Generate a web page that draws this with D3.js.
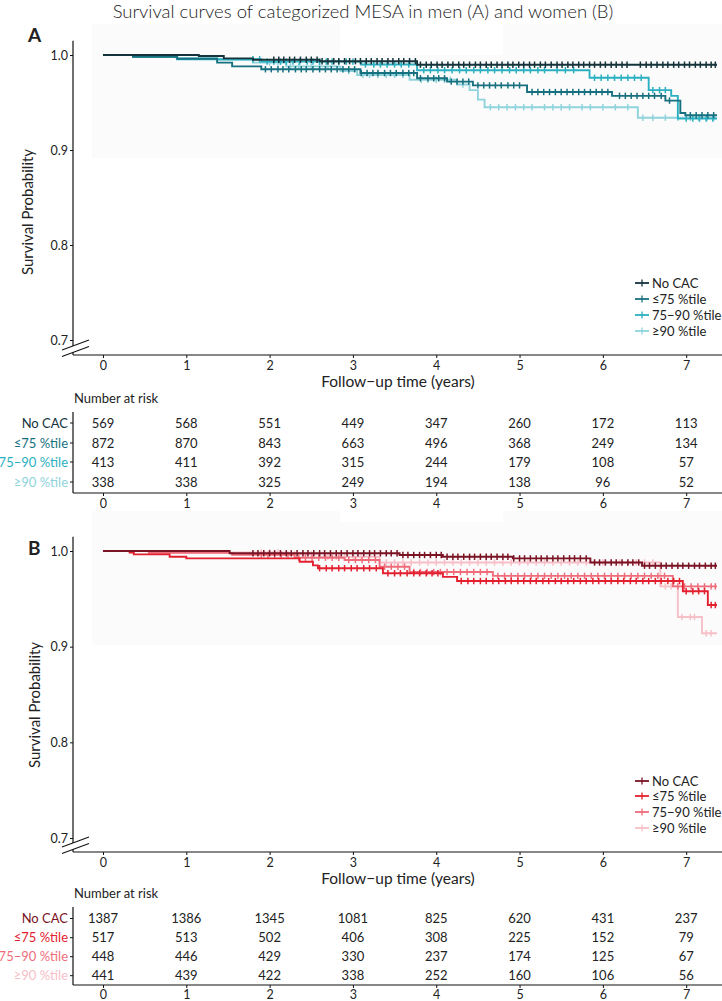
<!DOCTYPE html>
<html><head><meta charset="utf-8">
<script src="https://cdn.jsdelivr.net/npm/d3@7"></script>
<style>
body{margin:0;background:#fff}
svg{display:block}
text{font-family:Lato,"Open Sans",sans-serif;fill:#222}
</style>
</head><body>
<svg id="c" width="722" height="1001"></svg>
<script>
// ---------------- DATA ----------------
const timeTicks = [0,1,2,3,4,5,6,7];
const survTicks = [0.7,0.8,0.9,1.0];
const groups = ["No CAC","≤75 %tile","75−90 %tile","≥90 %tile"];
const menColors = ["#15333b","#17707f","#2bb0c1","#8fd4dd"];
const womenColors = ["#7a1424","#e3202f","#ef6d7b","#f7c0c8"];
const followEnd = 7.37;

// Kaplan-Meier steps [time (years), survival]
const menNoCAC = [[0,1],[1.15,0.999],[1.45,0.9965],[1.8,0.995],[2.6,0.9935],[3.77,0.9898]];
const menLe75  = [[0,1],[0.36,0.998],[0.89,0.996],[1.37,0.992],[1.55,0.988],[1.9,0.985],[3.09,0.981],[3.77,0.9755],[4.13,0.972],[4.44,0.968],[5.09,0.961],[6.11,0.957],[6.75,0.952],[6.93,0.939],[6.99,0.9366]];
const men7590  = [[0,1],[0.36,0.998],[0.89,0.9955],[1.9,0.993],[3.1,0.99],[3.77,0.984],[5.84,0.976],[6.55,0.963],[6.82,0.957],[6.9,0.933]];
const men90    = [[0,1],[0.52,0.999],[0.88,0.997],[1.37,0.995],[1.8,0.992],[2.2,0.988],[2.85,0.983],[3.05,0.979],[3.68,0.974],[4.25,0.969],[4.4,0.963],[4.5,0.953],[4.58,0.945],[6.42,0.934]];

const womenNoCAC = [[0,1],[1.52,0.9976],[3.56,0.9958],[4.08,0.994],[4.92,0.9923],[5.85,0.988],[6.47,0.9846]];
const womenLe75  = [[0,1],[0.32,0.9983],[0.37,0.9965],[0.8,0.994],[1.0,0.9923],[2.36,0.9888],[2.52,0.985],[2.58,0.982],[3.36,0.9767],[4.08,0.973],[4.25,0.9686],[6.96,0.958],[7.26,0.9435]];
const women7590  = [[0,1],[0.55,0.998],[1.55,0.996],[2.3,0.993],[2.9,0.9906],[3.32,0.9836],[3.68,0.978],[4.68,0.974],[6.84,0.963]];
const women90    = [[0,1],[0.55,0.9985],[2.2,0.9965],[2.6,0.994],[3.32,0.988],[6.69,0.963],[6.9,0.931],[7.19,0.914]];

// censoring times (years)
const cMenNoCAC = [2.05,2.11,2.17,2.24,2.3,2.37,2.44,2.5,2.57,2.63,2.7,2.77,2.83,2.9,2.96,3.03,3.09,3.16,3.22,3.29,3.35,3.42,3.48,3.55,3.61,3.68,3.75,3.81,3.88,3.94,4.01,4.07,4.14,4.2,4.27,4.33,4.4,4.47,4.53,4.6,4.66,4.73,4.79,4.86,4.92,4.99,5.05,5.12,5.18,5.25,5.31,5.38,5.45,5.51,5.58,5.64,5.71,5.77,5.84,5.9,5.97,6.03,6.1,6.16,6.23,6.29,6.45,6.52,6.58,6.65,6.72,6.78,6.85,6.91,6.98,7.04,7.11,7.17,7.24,7.3,7.35];
const cMenLe75 = [1.95,2.02,2.1,2.16,2.23,2.31,2.38,2.44,2.52,2.6,2.67,2.74,2.81,2.88,2.95,3.02,3.1,3.17,3.24,3.3,3.38,3.45,3.52,3.6,3.67,3.73,3.81,3.9,3.97,4.03,4.1,4.18,4.25,4.32,4.39,4.5,4.57,4.64,4.71,4.78,4.86,4.93,5.0,5.15,5.22,5.29,5.36,5.43,5.5,5.57,5.64,5.71,5.78,5.85,5.92,5.99,6.06,6.2,6.27,6.34,6.41,6.48,6.55,6.62,6.7,6.8,7.05,7.12,7.19,7.26,7.33];
const cMen7590 = [1.8,1.88,1.97,2.05,2.13,2.2,2.28,2.36,2.45,2.52,2.6,2.68,2.75,2.83,2.92,3.0,3.15,3.25,3.33,3.41,3.5,3.58,3.67,3.85,3.93,4.02,4.1,4.19,4.28,4.36,4.45,4.53,4.62,4.7,4.79,4.88,4.96,5.05,5.13,5.22,5.3,5.45,5.55,5.65,5.9,5.98,6.06,6.14,6.22,6.3,6.38,6.46,6.6,6.68,6.75,7.0,7.08,7.16,7.24,7.32];
const cMen90 = [2.0,2.1,2.25,2.35,2.5,2.6,2.7,2.95,3.12,3.2,3.3,3.4,3.5,3.6,3.82,3.9,4.0,4.1,4.17,4.32,4.65,4.75,4.85,4.95,5.05,5.15,5.3,5.4,5.5,5.6,5.75,5.85,6.0,6.15,6.3,6.48,6.6,6.75,6.9,7.05,7.15,7.25,7.33];

const cWomenNoCAC = [1.8,1.86,1.93,2.0,2.06,2.13,2.2,2.26,2.33,2.4,2.46,2.53,2.6,2.66,2.73,2.8,2.86,2.93,3.0,3.06,3.13,3.2,3.26,3.33,3.4,3.46,3.53,3.6,3.66,3.73,3.8,3.86,3.93,4.0,4.06,4.13,4.2,4.26,4.33,4.4,4.46,4.53,4.6,4.66,4.73,4.8,4.86,4.93,5.0,5.06,5.13,5.2,5.26,5.33,5.4,5.46,5.53,5.6,5.66,5.73,5.8,5.9,5.96,6.03,6.1,6.16,6.23,6.3,6.36,6.43,6.5,6.56,6.63,6.7,6.76,6.83,6.9,6.96,7.03,7.1,7.16,7.23,7.3,7.35];
const cWomenLe75 = [2.6,2.68,2.75,2.83,2.9,2.98,3.05,3.13,3.2,3.28,3.42,3.5,3.57,3.65,3.73,3.8,3.88,3.95,4.02,4.3,4.38,4.45,4.53,4.6,4.68,4.75,4.83,4.9,4.98,5.05,5.13,5.2,5.28,5.35,5.43,5.5,5.58,5.65,5.73,5.8,5.88,5.95,6.03,6.1,6.18,6.25,6.33,6.4,6.48,6.55,6.63,6.7,6.78,6.85,6.92,7.0,7.08,7.15,7.22,7.3,7.35];
const cWomen7590 = [1.9,1.98,2.06,2.14,2.22,2.35,2.43,2.51,2.59,2.67,2.75,2.83,2.95,3.03,3.11,3.19,3.27,3.38,3.46,3.54,3.62,3.73,3.81,3.89,3.97,4.05,4.13,4.21,4.29,4.37,4.45,4.53,4.61,4.74,4.82,4.9,4.98,5.06,5.14,5.22,5.3,5.38,5.46,5.54,5.62,5.7,5.78,5.86,5.94,6.02,6.1,6.18,6.26,6.34,6.42,6.5,6.58,6.66,6.74,6.9,6.98,7.06,7.14,7.22,7.3,7.35];
const cWomen90 = [1.9,2.0,2.1,2.3,2.4,2.5,2.7,2.8,2.9,3.0,3.1,3.2,3.4,3.5,3.6,3.7,3.8,3.9,4.0,4.1,4.2,4.3,4.4,4.5,4.6,4.7,4.8,4.9,5.0,5.1,5.2,5.3,5.4,5.5,5.6,5.7,5.8,5.9,6.0,6.1,6.2,6.3,6.4,6.5,6.6,6.75,6.82,6.95,7.05,7.1,7.24,7.3];

// number at risk
const menRiskNoCAC = [569,568,551,449,347,260,172,113];
const menRiskLe75  = [872,870,843,663,496,368,249,134];
const menRisk7590  = [413,411,392,315,244,179,108,57];
const menRisk90    = [338,338,325,249,194,138,96,52];
const womenRiskNoCAC = [1387,1386,1345,1081,825,620,431,237];
const womenRiskLe75  = [517,513,502,406,308,225,152,79];
const womenRisk7590  = [448,446,429,330,237,174,125,67];
const womenRisk90    = [441,439,422,338,252,160,106,56];

// ---------------- DRAW ----------------
const svg = d3.select("#c");
const x = d3.scaleLinear().domain([-0.36, 7.43]).range([73, 722]);

svg.append("text").attr("x",363).attr("y",18).attr("text-anchor","middle")
  .style("font-size","18.5px").style("font-weight","300").text("Survival curves of categorized MESA in men (A) and women (B)");

function styleAxis(a){
  a.selectAll("text").style("font-size","12.5px").style("font-family","Lato").attr("fill","#222");
  a.selectAll("line").attr("stroke","#111");
}

function drawPanel(p){
  const g = svg.append("g");
  const y = d3.scaleLinear().domain([0.7,1.0]).range([p.y07, p.y10]);
  const ax = p.axisY;

  // faint backdrop artefact
  p.shade.forEach(r => g.append("rect").attr("x",r[0]).attr("y",r[1]).attr("width",r[2]).attr("height",r[3]).attr("fill","#fbfbfb"));

  // panel letter
  g.append("text").attr("x",28).attr("y",p.letterY).style("font-size","19px").style("font-weight","700").text(p.letter);

  // y axis
  const yTop = y(1.015);
  g.append("line").attr("x1",73).attr("x2",73).attr("y1",yTop).attr("y2",ax).attr("stroke","#111").attr("stroke-width",1.2);
  const yAx = g.append("g").attr("transform","translate(73,0)")
    .call(d3.axisLeft(y).tickValues(survTicks).tickFormat(d3.format(".1f")).tickSize(3).tickPadding(2));
  yAx.select(".domain").remove();
  styleAxis(yAx);

  // x axis
  const xAx = g.append("g").attr("transform",`translate(0,${ax})`)
    .call(d3.axisBottom(x).tickValues(timeTicks).tickSize(3).tickPadding(3));
  xAx.select(".domain").attr("stroke","#111").attr("stroke-width",1.2).attr("d",`M73,0H722`);
  styleAxis(xAx);

  // break marks
  g.append("polygon").attr("points",`62,${ax-5} 89,${ax-15} 89,${ax-8.5} 62,${ax+1.5}`).attr("fill","#fff");
  g.append("line").attr("x1",62).attr("y1",ax-5).attr("x2",89).attr("y2",ax-15).attr("stroke","#111").attr("stroke-width",1.1);
  g.append("line").attr("x1",62).attr("y1",ax+1.5).attr("x2",89).attr("y2",ax-8.5).attr("stroke","#111").attr("stroke-width",1.1);

  // axis titles
  g.append("text").attr("transform",`translate(${p.ylabX},${p.ylabY}) rotate(-90)`).attr("text-anchor","middle")
    .style("font-size","15px").text("Survival Probability");
  g.append("text").attr("x",398).attr("y",ax+32).attr("text-anchor","middle").style("font-size","15.5px").text("Follow−up time (years)");

  // curves
  const line = d3.line().x(d=>x(d[0])).y(d=>y(d[1])).curve(d3.curveStepAfter);
  const bis = d3.bisector(d=>d).right;
  [3,2,1,0].forEach(i => {
    const c = p.curves[i];
    const pts = c.concat([[followEnd, c[c.length-1][1]]]);
    g.append("path").attr("d",line(pts)).attr("fill","none").attr("stroke",p.colors[i]).attr("stroke-width",1.9);
    const tArr = c.map(d=>d[0]);
    const sAt = t => c[bis(tArr,t)-1][1];
    g.append("g").selectAll("line").data(p.censor[i]).join("line")
      .attr("x1",t=>x(t)).attr("x2",t=>x(t))
      .attr("y1",t=>y(sAt(t))-3.2).attr("y2",t=>y(sAt(t))+3.2)
      .attr("stroke",p.colors[i]).attr("stroke-width",1.5);
  });

  // legend
  groups.forEach((name,i) => {
    const ly = ax + p.legendOff[i];
    g.append("line").attr("x1",635).attr("x2",649).attr("y1",ly).attr("y2",ly).attr("stroke",p.colors[i]).attr("stroke-width",1.8);
    g.append("line").attr("x1",642).attr("x2",642).attr("y1",ly-3.5).attr("y2",ly+3.5).attr("stroke",p.colors[i]).attr("stroke-width",1.3);
    g.append("text").attr("x",652).attr("y",ly+4.5).style("font-size","13px").text(name);
  });

  // risk table
  g.append("text").attr("x",74).attr("y",ax+p.riskTitle).style("font-size","13px").text("Number at risk");
  g.append("line").attr("x1",73).attr("x2",73).attr("y1",ax+p.riskTop).attr("y2",ax+p.riskAxis).attr("stroke","#111").attr("stroke-width",1.2);
  const rAx = g.append("g").attr("transform",`translate(0,${ax+p.riskAxis})`)
    .call(d3.axisBottom(x).tickValues(timeTicks).tickSize(3).tickPadding(p.riskPad));
  rAx.select(".domain").attr("stroke","#111").attr("stroke-width",1.2).attr("d",`M73,0H722`);
  styleAxis(rAx);
  p.risk.forEach((row,i) => {
    const ry = ax + p.rowOff[i];
    g.append("line").attr("x1",70).attr("x2",73).attr("y1",ry).attr("y2",ry).attr("stroke","#111");
    g.append("text").attr("x",68).attr("y",ry+4.5).attr("text-anchor","end").style("font-size","13px")
      .style("fill",p.colors[i]).text(groups[i]);
    g.selectAll(null).data(row).join("text").attr("x",(d,k)=>x(timeTicks[k])).attr("y",ry+4.5)
      .attr("text-anchor","middle").style("font-size","13px").text(d=>d);
  });
}

drawPanel({
  letter:"A", letterY:42, y10:55, y07:340, axisY:355, ylabX:33, ylabY:212,
  shade:[[92,24,248,134],[340,55,163,103],[503,24,219,134]],
  colors:menColors, curves:[menNoCAC,menLe75,men7590,men90],
  censor:[cMenNoCAC,cMenLe75,cMen7590,cMen90],
  legendOff:[-72,-56,-40,-24],
  riskTitle:48, riskTop:57, riskAxis:138, riskPad:3, rowOff:[68,88,107,127],
  risk:[menRiskNoCAC,menRiskLe75,menRisk7590,menRisk90]
});
drawPanel({
  letter:"B", letterY:555, y10:551, y07:838, axisY:852, ylabX:40, ylabY:705,
  shade:[[92,511,248,134],[340,522,163,123],[503,511,219,134]],
  colors:womenColors, curves:[womenNoCAC,womenLe75,women7590,women90],
  censor:[cWomenNoCAC,cWomenLe75,cWomen7590,cWomen90],
  legendOff:[-71,-56,-40,-24],
  riskTitle:46, riskTop:55, riskAxis:133, riskPad:2, rowOff:[66.5,85.7,104.7,123.7],
  risk:[womenRiskNoCAC,womenRiskLe75,womenRisk7590,womenRisk90]
});
</script>
</body></html>
